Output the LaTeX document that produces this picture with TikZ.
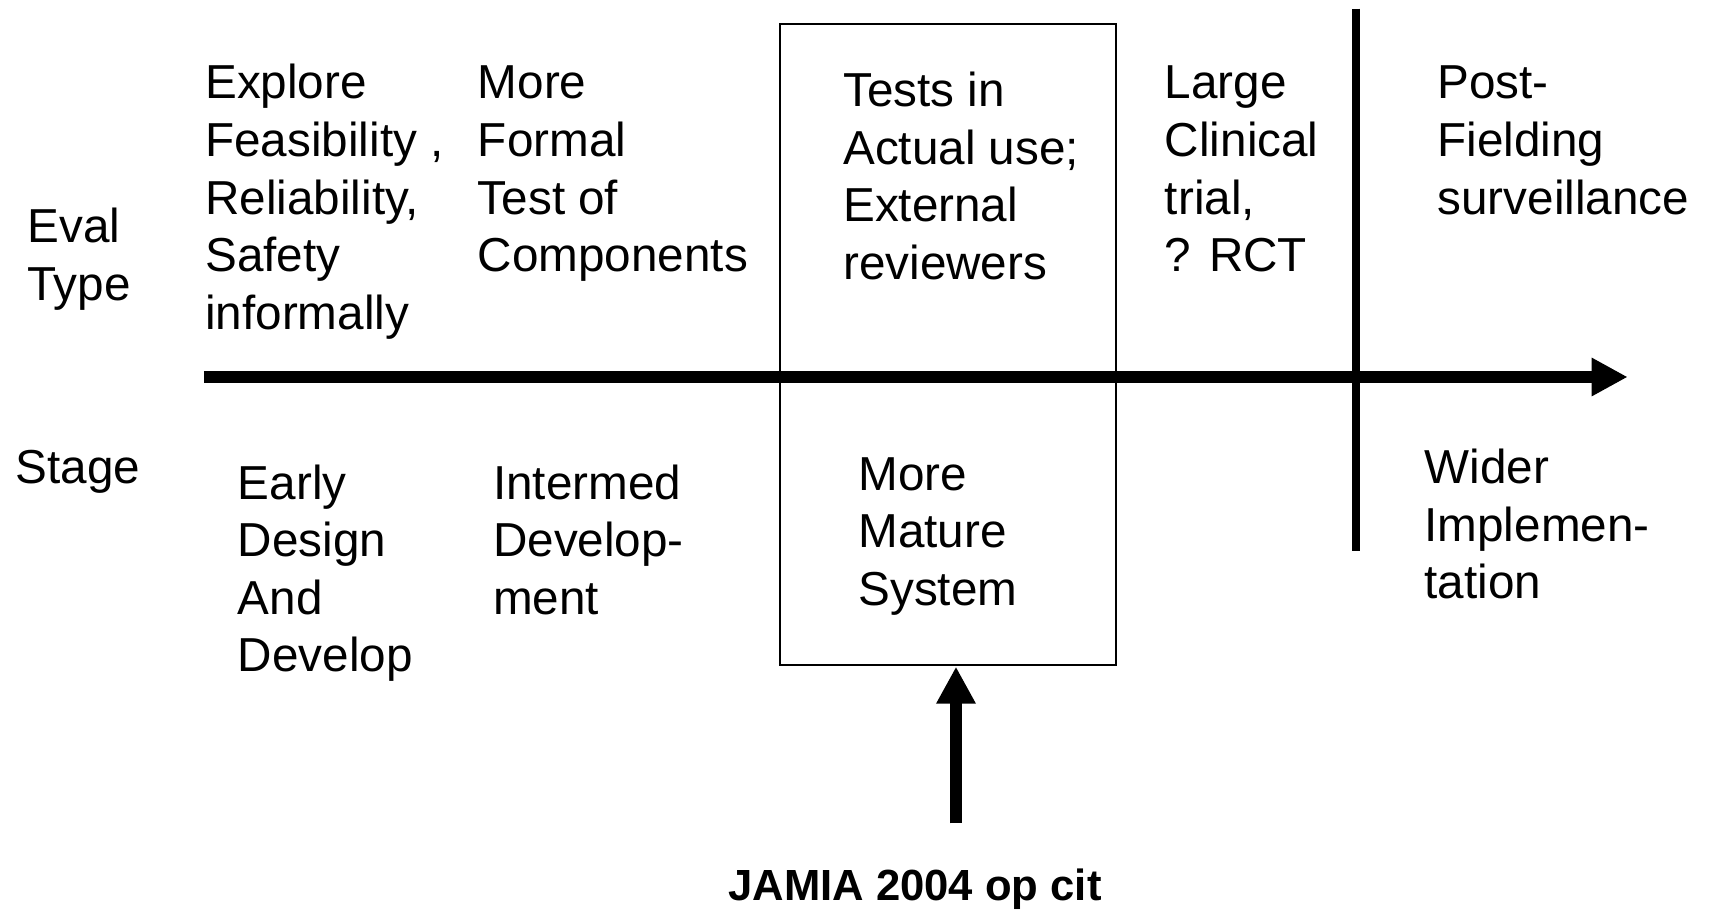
\documentclass[tikz,border=0pt]{standalone}
\usepackage{fontspec}
\setmainfont{Liberation Sans}
\usetikzlibrary{arrows.meta}
\begin{document}
\begin{tikzpicture}[x=1pt,y=1pt,
  lbl/.style={anchor=north west,inner sep=0pt,align=left,
    font=\fontsize{43.7}{52.8}\selectfont},
  thinbox/.style={draw,line width=1.8pt,minimum width=308pt,minimum height=587.5pt,inner sep=0pt},
  axisline/.style={line width=11pt,-{Triangle[length=33pt,width=33pt]}},
  divider/.style={line width=7.3pt},
  pointer/.style={line width=11pt,-{Triangle[length=34pt,width=34pt]}}]
\useasboundingbox (0,0) rectangle (1568,834);
\fill[white] (0,0) rectangle (1568,834);
% box
\node[thinbox] (box) at (869,518.25) {};
% axis
\coordinate (axisL) at (187,488.3);
\coordinate (axisR) at (1492.5,488.3);
\draw[axisline] (axisL) -- (axisR);
% divider
\coordinate (divT) at (1243.3,826);
\coordinate (divB) at (1243.3,329);
\draw[divider] (divT) -- (divB);
% top texts
\node[lbl] (eval) at (25,648.5) {\strut Eval\\Type};
\node[lbl] (explore) at (188,780.5) {\strut Explore\\Feasibility ,\\Reliability,\\Safety\\informally};
\node[lbl] (formal) at (438,780.5) {\strut More\\Formal\\Test of\\Components};
\node[lbl] (tests) at (773,773.5) {\strut Tests in\\Actual use;\\External\\reviewers};
\node[lbl] (large) at (1068,780.5) {\strut Large\\Clinical\\trial,\\? RCT};
\node[lbl] (post) at (1318,780.5) {\strut Post-\\Fielding\\surveillance};
% bottom texts
\node[lbl] (stage) at (14,427.5) {\strut Stage};
\node[lbl] (early) at (218,413.5) {\strut Early\\Design\\And\\Develop};
\node[lbl] (inter) at (452,413.5) {\strut Intermed\\Develop-\\ment};
\node[lbl] (mature) at (787,421.5) {\strut More\\Mature\\System};
\node[lbl] (wider) at (1306,427.5) {\strut Wider\\Implemen-\\tation};
% citation
\node[anchor=base,inner sep=0pt,font=\fontsize{40}{48}\selectfont\bfseries] (jamia) at (839,8) {JAMIA 2004 op cit};
\coordinate (tail) at (876.6,79);
\draw[pointer] (tail) -- ([yshift=-0.9pt]tail |- box.south);
\end{tikzpicture}
\end{document}
